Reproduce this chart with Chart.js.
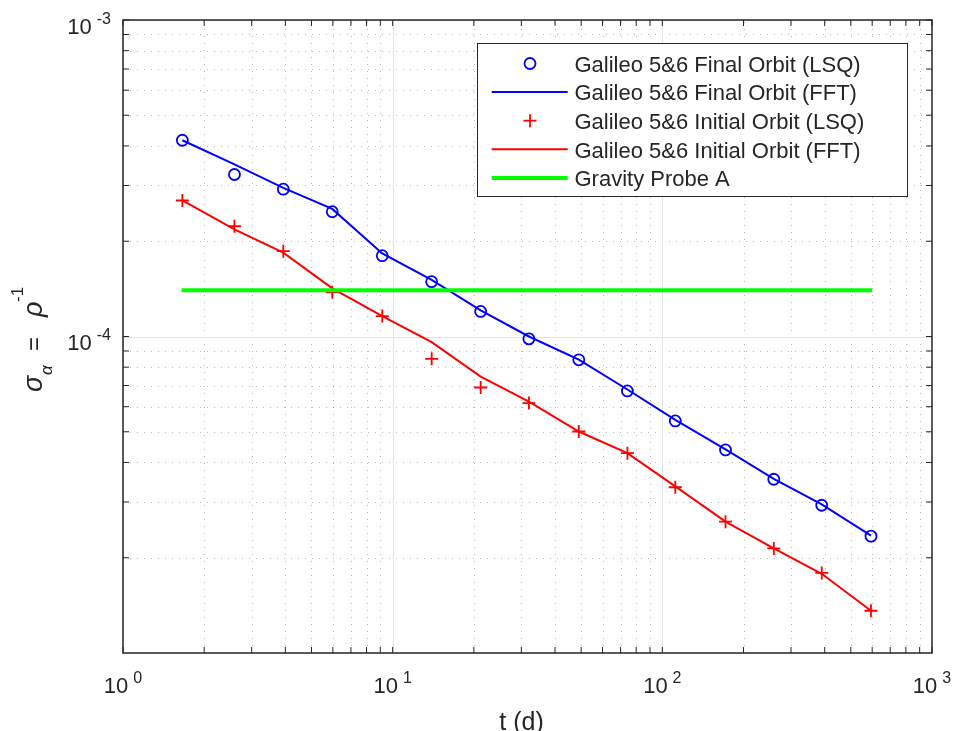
<!DOCTYPE html>
<html>
<head>
<meta charset="utf-8">
<script src="https://cdn.jsdelivr.net/npm/chart.js@4.4.1/dist/chart.umd.min.js"></script>
<style>
    html, body { margin: 0; padding: 0; background: #fff; }
    #wrap { width: 953px; height: 731px; }
</style>
</head>
<body>
<div id="wrap"><canvas id="mychart" width="953" height="731"></canvas></div>
<script>
// data (t in days, sigma_alpha)
var tDays      = [1.66, 2.59, 3.93, 5.97, 9.15, 13.95, 21.2, 32.0, 49.0, 74.2, 111.7, 171.5, 259, 390, 594]
var finalLSQ   = [4.17e-4, 3.25e-4, 2.92e-4, 2.48e-4, 1.80e-4, 1.49e-4, 1.20e-4, 9.83e-5, 8.44e-5, 6.73e-5, 5.41e-5, 4.38e-5, 3.54e-5, 2.93e-5, 2.34e-5]
var finalFFT   = [4.17e-4, 3.50e-4, 2.95e-4, 2.53e-4, 1.83e-4, 1.51e-4, 1.21e-4, 1.00e-4, 8.45e-5, 6.80e-5, 5.45e-5, 4.40e-5, 3.55e-5, 2.95e-5, 2.35e-5]
var initialLSQ = [2.69e-4, 2.23e-4, 1.86e-4, 1.38e-4, 1.16e-4, 8.50e-5, 6.90e-5, 6.16e-5, 5.01e-5, 4.28e-5, 3.34e-5, 2.60e-5, 2.14e-5, 1.79e-5, 1.36e-5]
var initialFFT = [2.69e-4, 2.18e-4, 1.84e-4, 1.42e-4, 1.16e-4, 9.60e-5, 7.47e-5, 6.23e-5, 5.01e-5, 4.28e-5, 3.36e-5, 2.60e-5, 2.14e-5, 1.78e-5, 1.36e-5]
var gpaT       = [1.65, 600]
var gpaSigma   = [1.4e-4, 1.4e-4]

var seriesNames = [
    "Galileo 5&6 Final Orbit (LSQ)",
    "Galileo 5&6 Final Orbit (FFT)",
    "Galileo 5&6 Initial Orbit (LSQ)",
    "Galileo 5&6 Initial Orbit (FFT)",
    "Gravity Probe A"
]

// axis ticks (base 10, exponent shown as superscript)
var xMajor = [1, 10, 100, 1000]
var xExp   = ["0", "1", "2", "3"]
var yMajor = [1e-4, 1e-3]
var yExp   = ["-4", "-3"]

var axisColor = '#262626'
var fontMain  = '22px "Liberation Sans", Arial, sans-serif'
var fontSup   = '16px "Liberation Sans", Arial, sans-serif'
var fontTitle = '25px "Liberation Sans", Arial, sans-serif'

function pts(xs, ys) {
    var out = []
    for (var i = 0; i < xs.length; i++) out.push({x: xs[i], y: ys[i]})
    return out
}

function minorValues(lo, hi) {
    var out = []
    for (var d = lo; d < hi * 0.99; d *= 10)
        for (var k = 2; k <= 9; k++) out.push(k * d)
    return out
}

function line(ctx, x1, y1, x2, y2) {
    ctx.beginPath(); ctx.moveTo(x1, y1); ctx.lineTo(x2, y2); ctx.stroke()
}

function powLabel(ctx, exp, x, y, align) {
    // "10" with superscript exponent; x is centre (align c) or right edge (align r)
    ctx.font = fontMain
    var w1 = ctx.measureText("10").width
    ctx.font = fontSup
    var w2 = ctx.measureText(exp).width
    var gap = 5
    var tot = w1 + gap + w2
    var start = align === 'c' ? x - tot / 2 : x - tot
    ctx.textAlign = 'left'
    ctx.textBaseline = 'alphabetic'
    ctx.font = fontMain
    ctx.fillText("10", start, y)
    ctx.font = fontSup
    ctx.fillText(exp, start + w1 + gap, y - 10)
}

var matlabAxes = {
    id: 'matlabAxes',
    beforeDatasetsDraw: function(chart) {
        var ctx = chart.ctx, a = chart.chartArea
        var xs = chart.scales.x, ys = chart.scales.y
        ctx.save()
        ctx.beginPath(); ctx.rect(a.left, a.top, a.right - a.left, a.bottom - a.top); ctx.clip()
        ctx.lineWidth = 1
        // minor grid, dotted
        ctx.strokeStyle = 'rgba(0,0,0,0.28)'
        ctx.setLineDash([1, 6])
        minorValues(1, 1000).forEach(function(v) {
            var px = Math.round(xs.getPixelForValue(v)) + 0.5
            line(ctx, px, a.bottom, px, a.top)
        })
        minorValues(1e-5, 1e-3).forEach(function(v) {
            var py = Math.round(ys.getPixelForValue(v)) + 0.5
            line(ctx, a.left, py, a.right, py)
        })
        // major grid, solid
        ctx.setLineDash([])
        ctx.strokeStyle = '#e2e2e2'
        xMajor.forEach(function(v) {
            var px = Math.round(xs.getPixelForValue(v)) + 0.5
            line(ctx, px, a.bottom, px, a.top)
        })
        yMajor.forEach(function(v) {
            var py = Math.round(ys.getPixelForValue(v)) + 0.5
            line(ctx, a.left, py, a.right, py)
        })
        ctx.restore()
    },
    afterDatasetsDraw: function(chart) {
        var ctx = chart.ctx, a = chart.chartArea
        var xs = chart.scales.x, ys = chart.scales.y
        ctx.save()

        // box
        ctx.strokeStyle = axisColor
        ctx.lineWidth = 1.5
        ctx.strokeRect(a.left, a.top, a.right - a.left, a.bottom - a.top)

        // inward ticks on all four sides
        var tl = 6
        ctx.lineWidth = 1
        xMajor.concat(minorValues(1, 1000)).forEach(function(v) {
            var px = xs.getPixelForValue(v)
            line(ctx, px, a.bottom, px, a.bottom - tl)
            line(ctx, px, a.top, px, a.top + tl)
        })
        yMajor.concat(minorValues(1e-5, 1e-3)).forEach(function(v) {
            var py = ys.getPixelForValue(v)
            line(ctx, a.left, py, a.left + tl, py)
            line(ctx, a.right, py, a.right - tl, py)
        })

        // tick labels
        ctx.fillStyle = axisColor
        xMajor.forEach(function(v, i) {
            powLabel(ctx, xExp[i], xs.getPixelForValue(v), a.bottom + 40, 'c')
        })
        yMajor.forEach(function(v, i) {
            powLabel(ctx, yExp[i], a.left - 12, ys.getPixelForValue(v) + 13.5, 'r')
        })

        // x title
        ctx.font = fontTitle
        ctx.textAlign = 'center'
        ctx.fillText("t (d)", (a.left + a.right) / 2 - 6, 730)

        // y title: sigma_alpha = rho^-1, rotated
        ctx.save()
        ctx.translate(42, 392)
        ctx.rotate(-Math.PI / 2)
        ctx.textAlign = 'left'
        ctx.font = 'italic 27px "Liberation Sans", sans-serif'
        ctx.fillText("σ", 0, 0)
        ctx.font = 'italic 17px "Liberation Sans", sans-serif'
        ctx.fillText("α", 17, 10)
        ctx.font = '24px "Liberation Sans", sans-serif'
        ctx.fillText("=", 41, 0)
        ctx.font = 'italic 27px "Liberation Sans", sans-serif'
        ctx.fillText("ρ", 75, 0)
        ctx.font = '17px "Liberation Sans", sans-serif'
        ctx.fillText("-1", 90, -19)
        ctx.restore()

        // legend box
        var lx = 477.5, ly = 43.5, lw = 430, lh = 153
        ctx.fillStyle = '#fff'
        ctx.fillRect(lx, ly, lw, lh)
        ctx.strokeStyle = axisColor
        ctx.lineWidth = 1
        ctx.strokeRect(lx, ly, lw, lh)
        chart.data.datasets.forEach(function(ds, i) {
            var ry = 63.5 + i * 28.6
            ctx.strokeStyle = ds.borderColor
            ctx.lineWidth = ds.borderWidth
            if (ds.showLine) {
                line(ctx, 491.7, ry, 567.7, ry)
            } else if (ds.pointStyle === 'circle') {
                ctx.beginPath(); ctx.arc(530, ry, ds.pointRadius, 0, Math.PI * 2); ctx.stroke()
            } else {
                var r = ds.pointRadius
                line(ctx, 530 - r, ry, 530 + r, ry)
                line(ctx, 530, ry - r, 530, ry + r)
            }
            ctx.fillStyle = axisColor
            ctx.font = fontMain
            ctx.textAlign = 'left'
            ctx.textBaseline = 'alphabetic'
            ctx.fillText(seriesNames[i], 574.5, ry + 8.3)
        })
        ctx.restore()
    }
}

var mychart = document.getElementById("mychart").getContext('2d')

var chart = new Chart(mychart, {
    type: 'scatter',
    data: {
        datasets: [
            {
                label: seriesNames[0],
                data: pts(tDays, finalLSQ),
                showLine: false,
                pointStyle: 'circle',
                pointRadius: 5.5,
                borderColor: 'rgb(0,0,255)',
                backgroundColor: 'rgba(0,0,0,0)',
                borderWidth: 1.8,
                order: 4
            },
            {
                label: seriesNames[1],
                data: pts(tDays, finalFFT),
                showLine: true,
                pointRadius: 0,
                borderColor: 'rgb(0,0,255)',
                borderWidth: 2,
                order: 3
            },
            {
                label: seriesNames[2],
                data: pts(tDays, initialLSQ),
                showLine: false,
                pointStyle: 'cross',
                pointRadius: 6.5,
                borderColor: 'rgb(255,0,0)',
                backgroundColor: 'rgba(0,0,0,0)',
                borderWidth: 1.8,
                order: 2
            },
            {
                label: seriesNames[3],
                data: pts(tDays, initialFFT),
                showLine: true,
                pointRadius: 0,
                borderColor: 'rgb(255,0,0)',
                borderWidth: 2,
                order: 1
            },
            {
                label: seriesNames[4],
                data: pts(gpaT, gpaSigma),
                showLine: true,
                pointRadius: 0,
                borderColor: 'rgb(0,255,0)',
                borderWidth: 4,
                order: 0
            }
        ]
    },
    options: {
        responsive: false,
        animation: false,
        devicePixelRatio: 1,
        layout: { padding: { left: 123, top: 20, right: 21, bottom: 78 } },
        plugins: { legend: { display: false }, tooltip: { enabled: false } },
        scales: {
            x: { type: 'logarithmic', min: 1, max: 1000, display: false },
            y: { type: 'logarithmic', min: 1e-5, max: 1e-3, display: false }
        }
    },
    plugins: [matlabAxes]
})
</script>
</body>
</html>
